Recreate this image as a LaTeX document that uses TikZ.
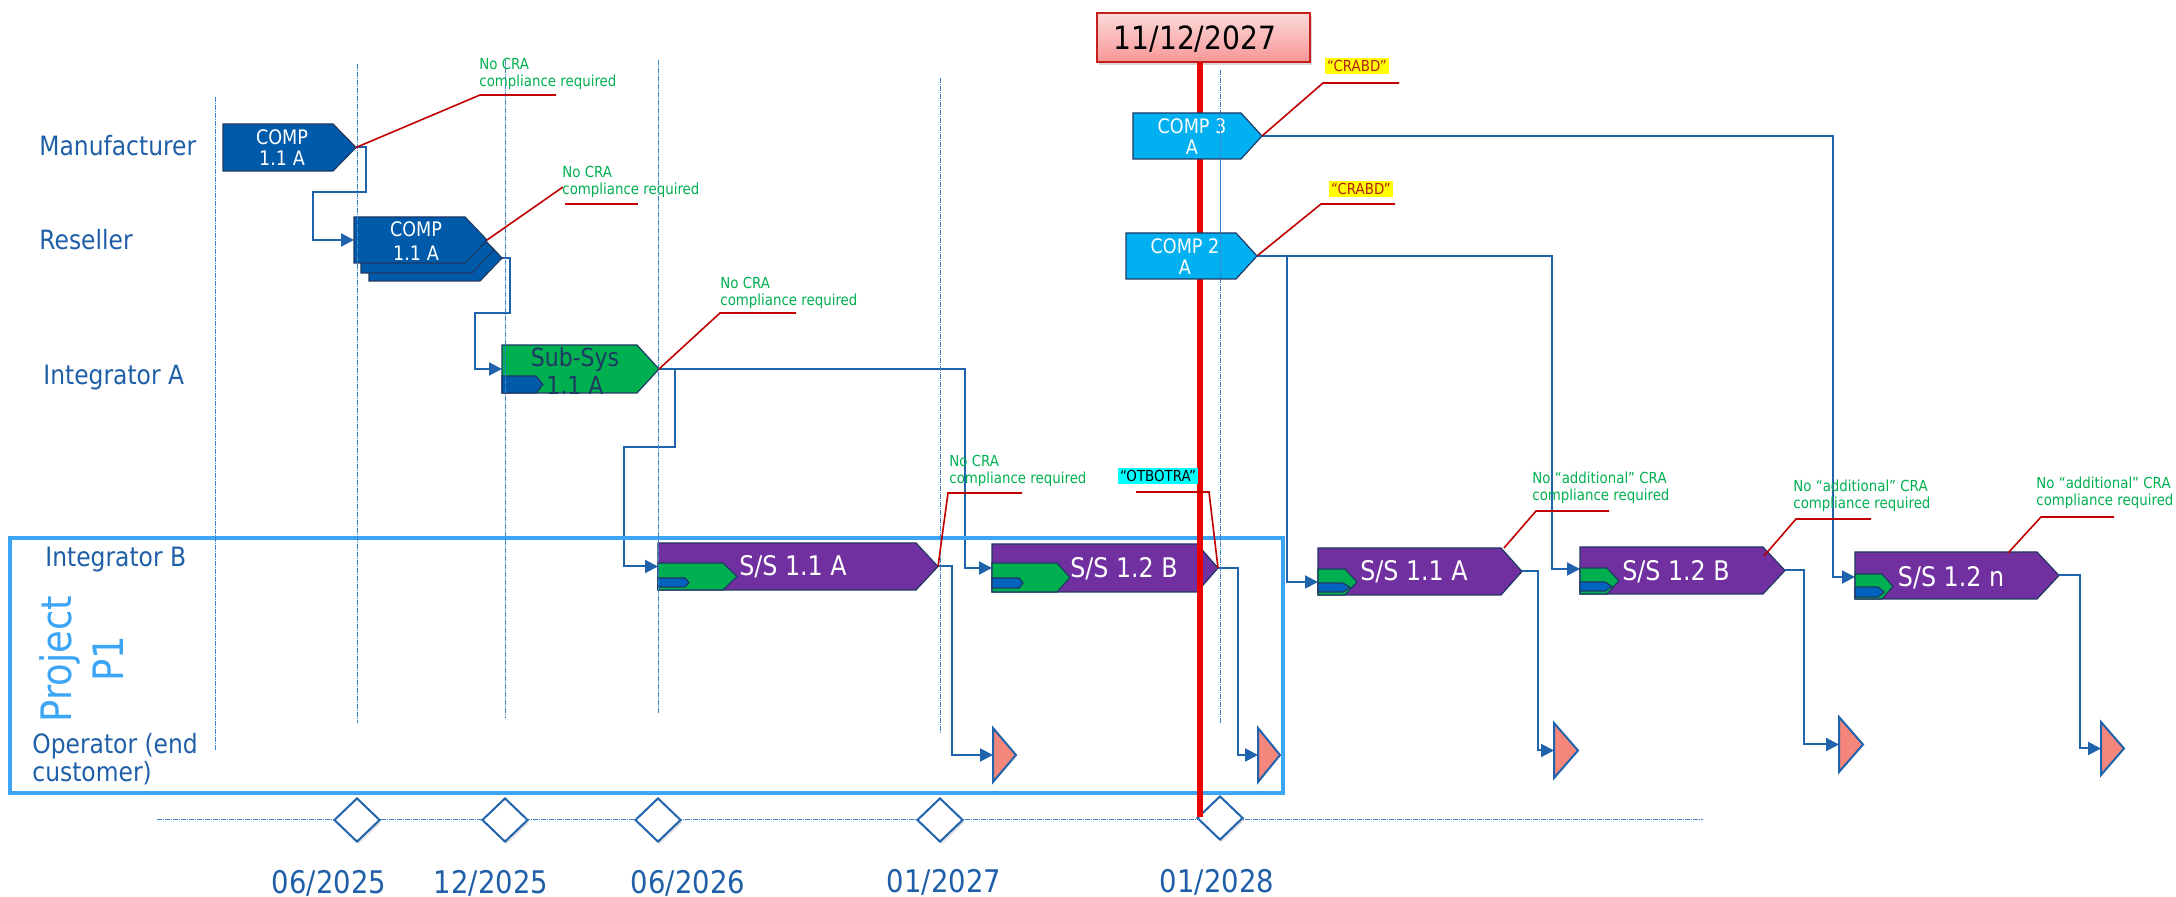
\documentclass[tikz,border=0pt]{standalone}
\usepackage{fontspec}
\setmainfont{DejaVu Sans}[FakeStretch=0.88]
\usetikzlibrary{arrows.meta,shapes.geometric,shadows}

\definecolor{lblue}{RGB}{31,95,168}
\definecolor{connblue}{RGB}{31,99,173}
\definecolor{compblue}{RGB}{0,90,170}
\definecolor{navy}{RGB}{31,56,100}
\definecolor{ssgreen}{RGB}{0,176,80}
\definecolor{sspurple}{RGB}{112,48,160}
\definecolor{lightcomp}{RGB}{0,176,240}
\definecolor{innerblue}{RGB}{0,100,190}
\definecolor{salmon}{RGB}{244,134,124}
\definecolor{projblue}{RGB}{60,165,245}
\definecolor{calloutred}{RGB}{192,0,0}
\definecolor{notegreen}{RGB}{0,176,80}
\definecolor{dashblue}{RGB}{60,130,205}
\definecolor{hlyellow}{RGB}{255,255,0}
\definecolor{hlcyan}{RGB}{0,255,255}
\definecolor{crabdred}{RGB}{180,30,30}
\definecolor{boxred}{RGB}{200,30,30}
\definecolor{pinktop}{RGB}{252,218,218}
\definecolor{pinkbot}{RGB}{247,150,150}
\definecolor{redline}{RGB}{235,0,0}

\newcommand\pentshape[7]{%
  \draw[shapeborder, fill=#7] (#2,#3) -- (#6,#3) -- (#4,{(#3+#5)/2}) -- (#6,#5) -- (#2,#5) -- cycle;
  \coordinate (#1-tip) at (#4,{(#3+#5)/2});
  \coordinate (#1-in) at (#2,{(#3+#5)/2});
}
\newcommand\optri[5]{%
  \draw[optriangle] (#2,#3) -- (#5,{(#3+#4)/2}) -- (#2,#4) -- cycle;
  \coordinate (#1-in) at (#2,{(#3+#4)/2});
}

\tikzset{
  vguide/.style={dashblue, line width=0.5pt, dash pattern=on 2.4pt off 0.6pt on 0.4pt off 0.6pt},
  conn/.style={connblue, line width=1pt, -{Triangle[length=6.5pt,width=6.5pt]}},
  redcallout/.style={calloutred, line width=0.8pt},
  notetext/.style={notegreen, font=\fontsize{7.6pt}{8.5pt}\selectfont, anchor=west, align=left, inner sep=0pt},
  rowlbl/.style={lblue, font=\fontsize{13.3pt}{14pt}\selectfont, anchor=west, align=left, inner sep=0pt},
  datelbl/.style={lblue, font=\fontsize{15.6pt}{16pt}\selectfont, inner sep=0pt},
  shapeborder/.style={draw=navy, line width=0.6pt},
  comptext/.style={white, font=\fontsize{10pt}{10.5pt}\selectfont, align=center, inner sep=0pt},
  subtext/.style={navy, font=\fontsize{12.5pt}{14pt}\selectfont, align=center, inner sep=0pt},
  sstext/.style={white, font=\fontsize{13.5pt}{14pt}\selectfont, inner sep=0pt},
  optriangle/.style={draw=connblue, fill=salmon, line width=1pt, line join=miter},
  milestone/.style={diamond, draw=connblue, fill=white, line width=1pt, minimum width=23pt, minimum height=22pt, inner sep=0pt, drop shadow={opacity=0.25, shadow xshift=0.8pt, shadow yshift=-1.2pt}},
  hlabel/.style={font=\fontsize{7.6pt}{8pt}\selectfont, inner xsep=1pt, inner ysep=1pt},
  projbox/.style={draw=projblue, line width=2pt, minimum width=636.5pt, minimum height=127.5pt, inner sep=0pt},
  projtext/.style={projblue, font=\fontsize{21pt}{26pt}\selectfont, align=center, inner sep=0pt, rotate=90},
  datebox/.style={draw=boxred, line width=1pt, top color=pinktop, bottom color=pinkbot, minimum width=106.5pt, minimum height=24.5pt, inner sep=0pt, drop shadow={opacity=0.3, shadow xshift=1pt, shadow yshift=-1.5pt}},
  datetext/.style={black, font=\fontsize{16pt}{16pt}\selectfont, inner sep=0pt},
  redvline/.style={redline, line width=2.6pt},
}

\begin{document}
\begin{tikzpicture}[x=0.5pt,y=-0.5pt]
\useasboundingbox (0,0) rectangle (2176,897);

% timeline
\draw[vguide] (157,820) -- (1703,820);

% row labels
\node[rowlbl] (lman) at (39,146) {Manufacturer};
\node[rowlbl] (lres) at (39,240) {Reseller};
\node[rowlbl] (lia) at (43,378) {Integrator A};
\node[rowlbl] (lib) at (45,560) {Integrator B};
\node[rowlbl] (lop) at (32,759) {Operator (end\\customer)};

% tips of shapes (shapes are drawn after connectors)
\coordinate (m1-tip) at (356,147.5);
\coordinate (r1c-tip) at (502,258);
\coordinate (sub-tip) at (659,369);
\coordinate (c3-tip) at (1262,136);
\coordinate (c2-tip) at (1257,256);

% connectors
\draw[conn] (m1-tip) -- ++(10,0) -- ++(0,44.5) -- ++(-53,0) |- (354,240);
\draw[conn] (r1c-tip) -- ++(8,0) -- ++(0,55) -- ++(-35,0) |- (502,369);
\draw[conn] (sub-tip) -- ++(306,0) |- (992,568);
\draw[conn] (sub-tip) ++(16,0) -- ++(0,78) -- ++(-51,0) |- (658,566.5);
\draw[conn] (c3-tip) -- ++(571,0) |- (1855,577);
\draw[conn] (c2-tip) -- ++(295,0) |- (1580,569);
\draw[conn] (c2-tip) ++(30,0) |- (1318,582);

% shapes
\pentshape{m1}{223}{124}{356}{171}{333}{compblue}
\pentshape{r1c}{369}{235}{502}{281}{480}{compblue}
\pentshape{r1b}{361}{227}{494}{273}{472}{compblue}
\pentshape{r1}{354}{217}{487}{263}{465}{compblue}
\pentshape{sub}{502}{345}{659}{393}{637}{ssgreen}
\pentshape{subb}{502}{376}{543}{393}{536}{compblue}
\pentshape{ss1}{658}{543}{938}{590}{916}{sspurple}
\pentshape{ss1g}{658}{563}{737}{590}{723}{ssgreen}
\pentshape{ss1b}{658}{578}{689}{587}{685}{innerblue}
\pentshape{ss2}{992}{544}{1218}{592}{1197}{sspurple}
\pentshape{ss2g}{992}{563}{1070}{592}{1057}{ssgreen}
\pentshape{ss2b}{992}{578}{1023}{588}{1019}{innerblue}
\pentshape{ss3}{1318}{548}{1522}{595}{1501}{sspurple}
\pentshape{ss3g}{1318}{569}{1357}{595}{1345}{ssgreen}
\pentshape{ss3b}{1318}{583}{1350}{592}{1343}{innerblue}
\pentshape{ss4}{1580}{547}{1785}{594}{1763}{sspurple}
\pentshape{ss4g}{1580}{568}{1619}{594}{1607}{ssgreen}
\pentshape{ss4b}{1580}{582}{1612}{591}{1605}{innerblue}
\pentshape{ss5}{1855}{552}{2059}{599}{2037}{sspurple}
\pentshape{ss5g}{1855}{574}{1893}{599}{1882}{ssgreen}
\pentshape{ss5b}{1855}{587}{1884}{597}{1878}{innerblue}

\node[comptext] (m1t) at (282,148) {COMP\\1.1 A};
\node[comptext, font=\fontsize{10pt}{12pt}\selectfont] (r1t) at (416,241) {COMP\\1.1 A};
\node[subtext] (subt) at (575,371) {Sub-Sys\\1.1 A};
\node[sstext] (ss1t) at (793,567) {S/S 1.1 A};
\node[sstext] (ss2t) at (1124,569) {S/S 1.2 B};
\node[sstext] (ss3t) at (1414,572) {S/S 1.1 A};
\node[sstext] (ss4t) at (1676,572) {S/S 1.2 B};
\node[sstext] (ss5t) at (1951,578) {S/S 1.2 n};

% operator triangles
\optri{t1}{993}{728}{782}{1016}
\optri{t2}{1258}{728}{782}{1280}
\optri{t3}{1554}{723}{778}{1578}
\optri{t4}{1839}{717}{772}{1863}
\optri{t5}{2101}{722}{775}{2124}

\draw[conn] (ss1-tip) -- ++(14,0) |- (t1-in);
\draw[conn] (ss2-tip) -- ++(20,0) |- (t2-in);
\draw[conn] (ss3-tip) -- ++(16,0) |- (t3-in);
\draw[conn] (ss4-tip) -- ++(19,0) |- (t4-in);
\draw[conn] (ss5-tip) -- ++(21,0) |- (t5-in);

% project box
\node[projbox] (proj) at (646.5,665.5) {};
\node[projtext] (projlbl) at (82,659) {Project\\P1};

% milestones
\node[milestone] (d1) at (357,820) {};
\node[milestone] (d2) at (505,820) {};
\node[milestone] (d3) at (658,820) {};
\node[milestone] (d4) at (940,820) {};
\node[milestone] (d5) at (1220,818) {};
\node[datelbl] (dt1) at (329,883) {06/2025};
\node[datelbl] (dt2) at (491,883) {12/2025};
\node[datelbl] (dt3) at (688,883) {06/2026};
\node[datelbl] (dt4) at (944,882) {01/2027};
\node[datelbl] (dt5) at (1217,882) {01/2028};

% date box and red date line
\node[datebox] (datebox) at (1203.5,37.5) {};
\node[datetext] (datetxt) at (1195,39) {11/12/2027};
\coordinate (redend) at (1200,817);
\draw[redvline] (datebox.south -| redend) -- (redend);

% vertical guides
\foreach \gx/\gt/\gb in {215/97/750, 357/64/723, 505/60/718, 658/60/713, 940/78/733, 1220/70/723}
  \draw[vguide] (\gx,\gt) -- (\gx,\gb);

% callouts
\draw[redcallout] (m1-tip) -- (480,95) -- (556,95);
\draw[redcallout] (r1-tip) -- (563,187);
\draw[redcallout] (565,204) -- (638,204);
\draw[redcallout] (sub-tip) -- (720,313) -- (796,313);
\draw[redcallout] (ss1-tip) -- (948,493) -- (1022,493);
\draw[redcallout] (1136,492) -- (1209,492) -- (ss2-tip);
\draw[redcallout] (c3-tip) -- (1323,83) -- (1399,83);
\draw[redcallout] (c2-tip) -- (1321,204) -- (1395,204);
\draw[redcallout] (1504,548) -- (1536,511) -- (1609,511);
\draw[redcallout] (1764,556) -- (1796,519) -- (1871,519);
\draw[redcallout] (2008,553) -- (2041,517) -- (2114,517);

\node[notetext] (n1) at (479,73.5) {No CRA\\compliance required};
\node[notetext] (n2) at (562,182) {No CRA\\compliance required};
\node[notetext] (n3) at (720,292.5) {No CRA\\compliance required};
\node[notetext] (n4) at (949,471) {No CRA\\compliance required};
\node[notetext] (n5) at (1532,488) {No “additional” CRA\\compliance required};
\node[notetext] (n6) at (1793,495.5) {No “additional” CRA\\compliance required};
\node[notetext] (n7) at (2036,493) {No “additional” CRA\\compliance required};

\node[hlabel, fill=hlyellow, text=crabdred] (k1) at (1357,66) {“CRABD”};
\node[hlabel, fill=hlyellow, text=crabdred] (k2) at (1361,189) {“CRABD”};
\node[hlabel, fill=hlcyan, text=black] (k3) at (1158,476) {“OTBOTRA”};

% COMP 3 / COMP 2 on top of the red line
\pentshape{c3}{1133}{113}{1262}{159}{1241}{lightcomp}
\pentshape{c2}{1126}{233}{1257}{279}{1236}{lightcomp}
\node[comptext] (c3t) at (1192,137) {COMP 3\\A};
\node[comptext] (c2t) at (1185,256.5) {COMP 2\\A};
\draw[vguide] (1220,113) -- (1220,279);
\end{tikzpicture}
\end{document}
